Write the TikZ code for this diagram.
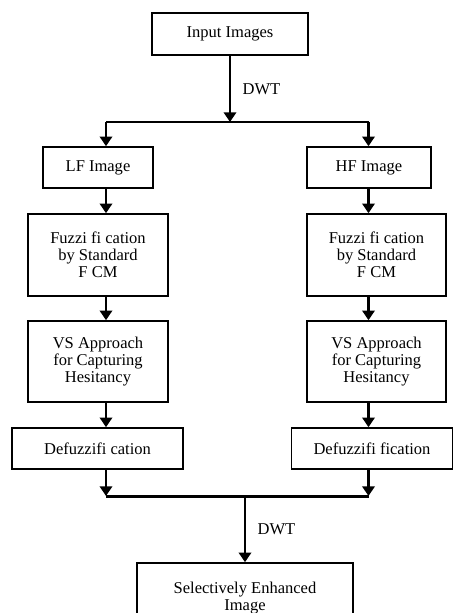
\documentclass[tikz,border=0pt]{standalone}
\usepackage{fontspec}
\setmainfont{Liberation Serif}
\usetikzlibrary{arrows.meta}

\tikzset{
    blockbox/.style={draw, line width=0.9pt, align=center, inner sep=0pt,
        font=\fontsize{9.4}{9.6}\selectfont},
    flow/.style={line width=1.7pt, -{Triangle[width=7pt,length=5.5pt]}},
    plain/.style={line width=1.7pt}
}

\begin{document}
\begin{tikzpicture}[x=0.02cm, y=-0.02cm]
    % Frame of the picture
    \useasboundingbox (0,0) rectangle (454,613);
    \clip (0,0) rectangle (454,613);

    % Draw boxes
    \node[blockbox, minimum width=156*0.02cm, minimum height=42*0.02cm] (input) at (230,34) {Input Images};
    \node[blockbox, minimum width=110*0.02cm, minimum height=41*0.02cm] (lf) at (98,167.5) {LF Image};
    \node[blockbox, minimum width=124*0.02cm, minimum height=41*0.02cm] (hf) at (369,167.5) {HF Image};
    \node[blockbox, minimum width=140*0.02cm, minimum height=82*0.02cm] (fuzl) at (98,255) {Fuzzi fi cation\\by Standard\\F CM};
    \node[blockbox, minimum width=139*0.02cm, minimum height=82*0.02cm] (fuzr) at (376.5,255) {Fuzzi fi cation\\by Standard\\F CM};
    \node[blockbox, minimum width=140*0.02cm, minimum height=81*0.02cm] (vsl) at (98,361.5) {VS Approach\\for Capturing\\Hesitancy};
    \node[blockbox, minimum width=139*0.02cm, minimum height=81*0.02cm] (vsr) at (376.5,361.5) {VS Approach\\for Capturing\\Hesitancy};
    \node[blockbox, minimum width=171*0.02cm, minimum height=41*0.02cm] (defl) at (97.5,448.5) {Defuzzifi cation};
    \node[blockbox, minimum width=161*0.02cm, minimum height=41*0.02cm] (defr) at (372,448.5) {Defuzzifi fication};
    \node[blockbox, minimum width=216*0.02cm, minimum height=70*0.02cm] (output) at (245,598) {Selectively Enhanced\\Image};

    % Columns and junctions
    \coordinate (lcol) at (106,0);
    \coordinate (rcol) at (368.5,0);
    \coordinate (split) at (230,122);
    \coordinate (merge) at (245,496);

    % Draw arrows
    \draw[flow] (input.south -| split) -- (split) node[midway, right=3pt, font=\fontsize{9.4}{9.6}\selectfont] {DWT};
    \draw[plain] (split -| lcol) -- (split -| rcol);
    \draw[flow] (split -| lcol) -- (lf.north -| lcol);
    \draw[flow] (split -| rcol) -- (hf.north -| rcol);
    \draw[flow] (lf.south -| lcol) -- (fuzl.north -| lcol);
    \draw[flow] (hf.south -| rcol) -- (fuzr.north -| rcol);
    \draw[flow] (fuzl.south -| lcol) -- (vsl.north -| lcol);
    \draw[flow] (fuzr.south -| rcol) -- (vsr.north -| rcol);
    \draw[flow] (vsl.south -| lcol) -- (defl.north -| lcol);
    \draw[flow] (vsr.south -| rcol) -- (defr.north -| rcol);
    \draw[flow] (defl.south -| lcol) -- (merge -| lcol);
    \draw[flow] (defr.south -| rcol) -- (merge -| rcol);
    \draw[plain] (merge -| lcol) -- (merge -| rcol);
    \draw[flow] (merge) -- (output.north -| merge) node[midway, right=3pt, font=\fontsize{9.4}{9.6}\selectfont] {DWT};
\end{tikzpicture}
\end{document}
